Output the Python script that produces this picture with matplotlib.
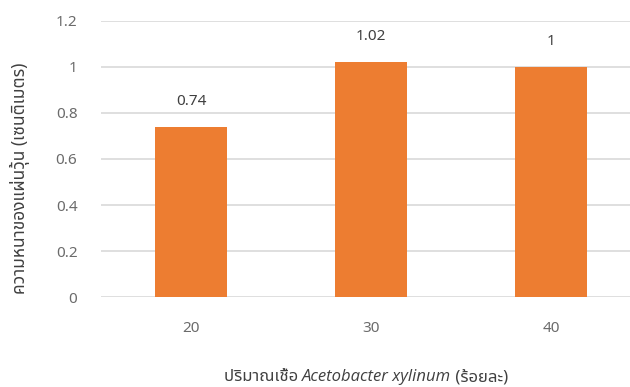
import matplotlib
matplotlib.use("Agg")
import matplotlib.pyplot as plt
from matplotlib import font_manager, ft2font

categories = ["20", "30", "40"]
values = [0.74, 1.02, 1.0]
value_labels = ["0.74", "1.02", "1"]
y_ticks = [0, 0.2, 0.4, 0.6, 0.8, 1.0, 1.2]
y_tick_labels = ["0", "0.2", "0.4", "0.6", "0.8", "1", "1.2"]
y_label = "ความหนาของแผ่นวุ้น (เซนติเมตร)"
x_label_parts = ["ปริมาณเชื้อ ", "Acetobacter xylinum", " (ร้อยละ)"]

# find a family with Thai glyphs
thai_fams = []
for f in font_manager.fontManager.ttflist:
    try:
        cm = ft2font.FT2Font(f.fname).get_charmap()
        if 0x0E01 in cm and 0x0E49 in cm:
            thai_fams.append(f.name)
    except Exception:
        pass
pref = None
for cand in ["Noto Sans Thai", "Noto Sans Thai UI", "Noto Sans", "Tahoma", "Leelawadee UI"]:
    if cand in thai_fams:
        pref = cand
        break
if pref is None and thai_fams:
    pref = thai_fams[0]
fams = ([pref] if pref else []) + ["Open Sans", "DejaVu Sans"]
plt.rcParams["font.family"] = fams

orange = "#ED7D31"
grid_c = "#D9D9D9"
txt_c = "#6B6B6B"
lab_c = "#404040"

fig = plt.figure(figsize=(6.3, 3.87), dpi=100)
ax = fig.add_axes([101 / 630, 1 - 297.3 / 387, (630 - 101) / 630, (297.3 - 20.6) / 387])

x = list(range(len(categories)))
ax.bar(x, values, width=0.4, color=orange, zorder=3)
ax.set_xlim(-0.5, -0.5 + 529 / 180)
ax.set_ylim(0, 1.2)
ax.set_yticks(y_ticks)
ax.set_yticklabels(y_tick_labels)
ax.set_xticks(x)
ax.set_xticklabels(categories)
ax.yaxis.grid(True, color=grid_c, linewidth=1.2, zorder=0)
for s in ax.spines.values():
    s.set_visible(False)
ax.tick_params(axis="both", length=0, colors=txt_c, labelsize=11)
ax.tick_params(axis="y", pad=17)
ax.tick_params(axis="x", pad=17)

for xi, v, lab in zip(x, values, value_labels):
    ax.annotate(lab, (xi, v), xytext=(0, 13), textcoords="offset points",
                ha="center", va="bottom", color=lab_c, fontsize=11)

fig.text(20 / 630, 1 - 178 / 387, y_label, rotation=90, ha="center", va="center",
         color=lab_c, fontsize=12.5)

# x label with italic middle part
fig.canvas.draw()
r = fig.canvas.get_renderer()
texts = []
styles = ["normal", "italic", "normal"]
for p, st in zip(x_label_parts, styles):
    kw = dict(ha="left", va="baseline", color=lab_c, fontsize=12)
    if st == "italic":
        t = fig.text(0, 1 - 381 / 387, p, style="italic",
                     family=["Open Sans", "DejaVu Sans"], **kw)
    else:
        t = fig.text(0, 1 - 381 / 387, p, **kw)
    texts.append(t)
widths = [t.get_window_extent(r).width for t in texts]
total = sum(widths)
start = 366 - total / 2
for t, w in zip(texts, widths):
    t.set_x(start / 630)
    start += w

fig.savefig("out.png", dpi=100)
